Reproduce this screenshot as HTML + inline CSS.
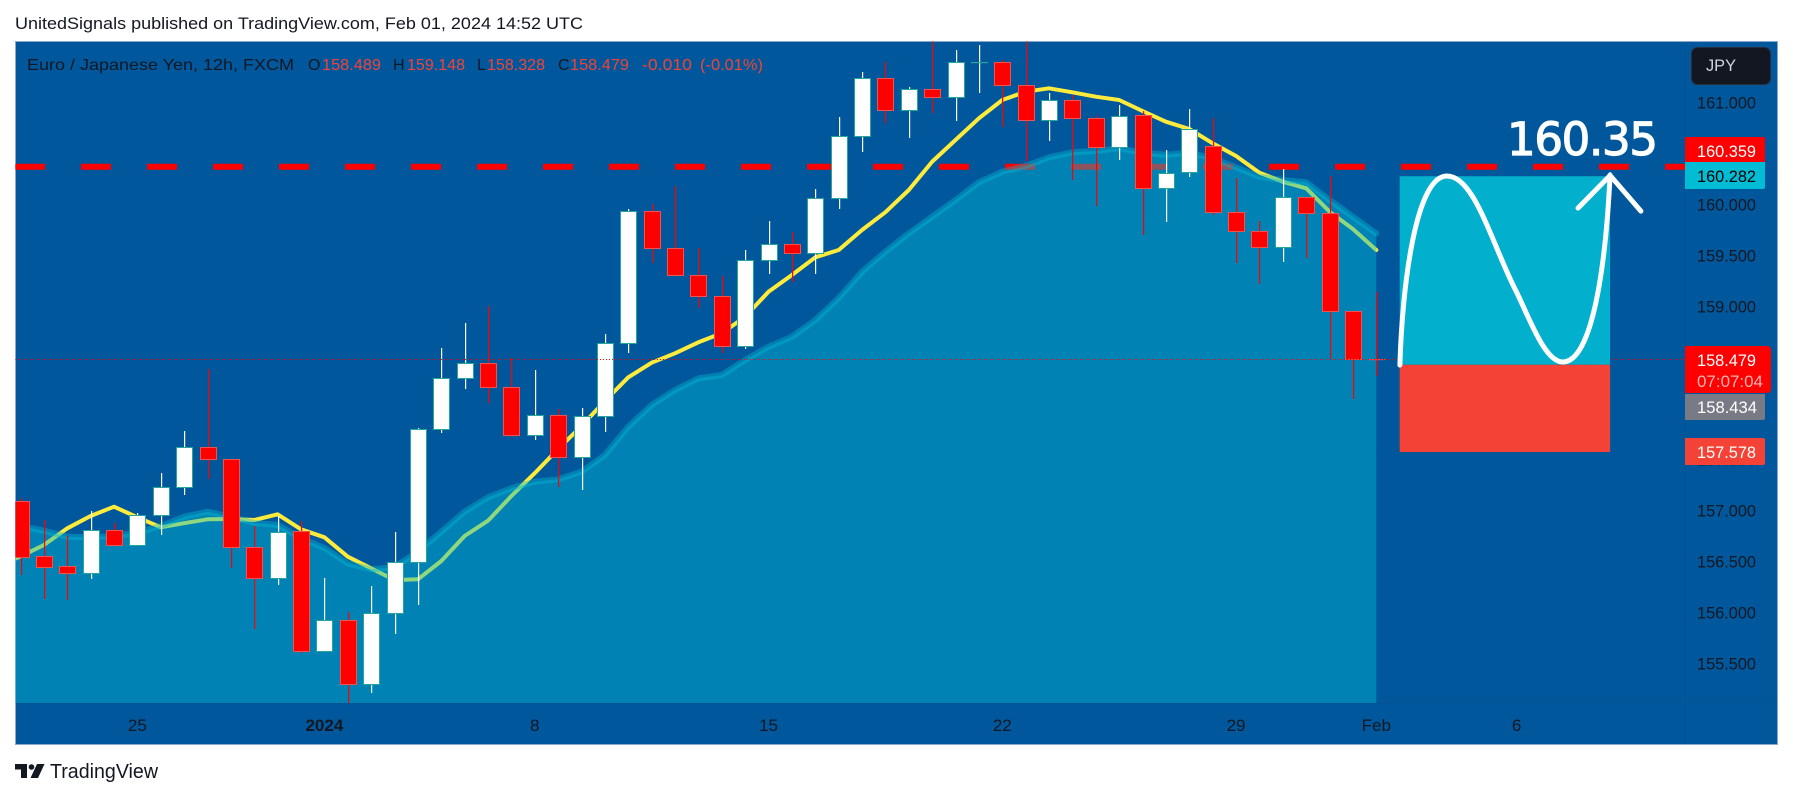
<!DOCTYPE html>
<html lang="en">
<head>
<meta charset="utf-8">
<title>EUR/JPY 12h chart</title>
<style>
html,body{margin:0;padding:0;background:#fff;width:1793px;height:798px;overflow:hidden}
svg{display:block;position:absolute;left:0;top:0}
text{font-family:"Liberation Sans",sans-serif}
</style>
</head>
<body>
<svg id="chart" xmlns="http://www.w3.org/2000/svg" width="1793" height="798" viewBox="0 0 1793 798">
  <defs>
    <clipPath id="pane-clip"><rect x="15.5" y="41.5" width="1669.5" height="661.5"/></clipPath>
  </defs>
  <text x="15" y="29" font-size="17" fill="#131722" textLength="568" lengthAdjust="spacingAndGlyphs">UnitedSignals published on TradingView.com, Feb 01, 2024 14:52 UTC</text>
  <rect x="15.5" y="41.5" width="1762" height="703" fill="#01579b" stroke="#8aa9cc" stroke-width="1"/>
  <g id="pane" clip-path="url(#pane-clip)"></g>
  <line x1="1685.5" y1="42" x2="1685.5" y2="744" stroke="#025393" stroke-width="1"/>
  <line x1="16" y1="703.5" x2="1777" y2="703.5" stroke="#025393" stroke-width="1"/>
  <g id="price-axis"></g>
  <g id="time-axis"></g>

  <g font-size="16">
    <text x="27" y="70" fill="#131722" textLength="267" lengthAdjust="spacingAndGlyphs">Euro / Japanese Yen, 12h, FXCM</text>
    <text x="308" y="70" fill="#131722">O</text>
    <text x="322" y="70" fill="#f44336" textLength="59" lengthAdjust="spacingAndGlyphs">158.489</text>
    <text x="393" y="70" fill="#131722">H</text>
    <text x="407" y="70" fill="#f44336" textLength="58" lengthAdjust="spacingAndGlyphs">159.148</text>
    <text x="477" y="70" fill="#131722">L</text>
    <text x="487" y="70" fill="#f44336" textLength="58" lengthAdjust="spacingAndGlyphs">158.328</text>
    <text x="558" y="70" fill="#131722">C</text>
    <text x="570" y="70" fill="#f44336" textLength="59" lengthAdjust="spacingAndGlyphs">158.479</text>
    <text x="642" y="70" fill="#f44336" textLength="50" lengthAdjust="spacingAndGlyphs">-0.010</text>
    <text x="700" y="70" fill="#f44336" textLength="63" lengthAdjust="spacingAndGlyphs">(-0.01%)</text>
  </g>

  <g>
    <rect x="1691.5" y="47.5" width="79" height="37" rx="6" fill="#131722" stroke="#2a2e39"/>
    <text x="1706" y="71" font-size="17" fill="#d1d4dc" textLength="30" lengthAdjust="spacingAndGlyphs">JPY</text>
  </g>

  <g font-size="17">
    <path d="M1685 137H1763a2 2 0 0 1 2 2V162H1685Z" fill="#ff0000"/>
    <text x="1697" y="157" fill="#ffffff" textLength="59" lengthAdjust="spacingAndGlyphs">160.359</text>
    <path d="M1685 162H1765V187a2 2 0 0 1 -2 2H1685Z" fill="#00bcd4"/>
    <text x="1697" y="182" fill="#000000" textLength="59" lengthAdjust="spacingAndGlyphs">160.282</text>
    <path d="M1685 346H1767a4 4 0 0 1 4 4V389a4 4 0 0 1 -4 4H1685Z" fill="#ff0000"/>
    <text x="1697" y="366" fill="#ffffff" textLength="59" lengthAdjust="spacingAndGlyphs">158.479</text>
    <text x="1697" y="387" fill="#ffb3b3" textLength="66" lengthAdjust="spacingAndGlyphs">07:07:04</text>
    <path d="M1685 394H1765V418a2 2 0 0 1 -2 2H1685Z" fill="#787b86"/>
    <text x="1697" y="413" fill="#ffffff" textLength="60" lengthAdjust="spacingAndGlyphs">158.434</text>
    <path d="M1685 438H1763a2 2 0 0 1 2 2V463a2 2 0 0 1 -2 2H1685Z" fill="#f44336"/>
    <text x="1697" y="458" fill="#ffffff" textLength="59" lengthAdjust="spacingAndGlyphs">157.578</text>
  </g>

  <g>
    <path d="M15 764H27V778H21V769.500H15Z" fill="#131722"/>
    <circle cx="31.500" cy="767" r="2.800" fill="#131722"/>
    <path d="M37 764H44.500L38 778H30.500Z" fill="#131722"/>
    <text x="50" y="778" font-size="20" fill="#131722" textLength="108" lengthAdjust="spacingAndGlyphs">TradingView</text>
  </g>
</svg>

<script>
/* ---------- candle data (EUR/JPY, 12h) ---------- */
const opens = [157.098,156.556,156.458,156.389,156.811,156.664,156.958,157.232,157.624,157.507,156.644,156.340,156.801,155.625,155.928,155.301,155.997,156.497,157.801,158.301,158.448,158.213,157.748,157.938,157.532,157.928,158.644,159.938,159.576,159.317,159.111,158.615,159.458,159.615,159.527,160.066,160.674,161.242,160.928,161.140,161.056,161.399,161.399,161.174,160.830,161.026,160.856,160.566,160.879,160.164,160.320,160.575,159.934,159.748,159.585,160.081,159.924,158.964,158.489];
const highs = [157.130,156.912,156.755,157.000,156.879,156.980,157.372,157.784,158.389,157.507,156.853,156.951,156.902,156.343,156.010,156.265,156.794,157.814,158.598,158.843,159.010,158.500,158.382,158.000,158.010,158.735,159.961,160.010,160.186,159.578,159.304,159.559,159.843,159.738,160.157,160.863,161.304,161.402,161.157,161.667,161.520,161.569,161.422,161.716,161.095,161.078,160.875,160.980,160.922,160.539,160.941,160.850,160.262,159.843,160.350,160.081,160.284,158.964,159.148];
const lows = [156.372,156.137,156.128,156.333,156.664,156.664,156.765,157.157,157.311,156.441,155.843,156.275,155.608,155.625,155.115,155.219,155.797,156.078,157.768,158.196,158.062,157.728,157.696,157.235,157.206,157.774,158.549,159.428,159.317,158.993,158.549,158.591,159.324,159.248,159.324,159.961,160.520,160.804,160.657,160.899,160.826,161.101,160.765,160.431,160.630,160.248,159.993,160.444,159.709,159.833,160.277,159.902,159.434,159.225,159.444,159.483,158.490,158.095,158.328];
const closes = [156.552,156.454,156.389,156.811,156.664,156.958,157.232,157.624,157.507,156.644,156.340,156.797,155.625,155.928,155.301,155.997,156.497,157.801,158.301,158.448,158.213,157.748,157.938,157.532,157.928,158.644,159.938,159.576,159.317,159.111,158.615,159.458,159.615,159.527,160.066,160.674,161.242,160.928,161.140,161.056,161.399,161.399,161.174,160.830,161.026,160.856,160.566,160.875,160.164,160.317,160.742,159.934,159.748,159.585,160.081,159.924,158.964,158.493,158.479];

/* ---------- moving averages (first value belongs to the bar left of the pane) ---------- */
const fastMA = [156.461,156.554,156.667,156.830,156.951,157.042,156.938,156.840,156.880,156.919,156.922,156.912,156.968,156.821,156.742,156.552,156.438,156.323,156.330,156.510,156.755,156.905,157.147,157.372,157.608,157.833,158.078,158.311,158.454,158.546,158.654,158.742,158.905,159.150,159.314,159.487,159.559,159.755,159.929,160.147,160.425,160.637,160.850,161.029,161.111,161.144,161.105,161.062,161.029,160.922,160.817,160.745,160.605,160.480,160.317,160.228,160.164,159.934,159.765,159.559];
const slowMA = [156.882,156.853,156.807,156.748,156.742,156.755,156.787,156.853,156.944,156.993,156.944,156.882,156.863,156.735,156.637,156.487,156.428,156.451,156.601,156.797,156.993,157.134,157.223,157.287,157.311,157.385,157.549,157.826,158.039,158.186,158.301,158.333,158.480,158.611,158.709,158.872,159.088,159.346,159.542,159.722,159.885,160.049,160.223,160.326,160.382,160.468,160.517,160.529,160.556,160.513,160.493,160.513,160.458,160.370,160.277,160.245,160.223,160.049,159.885,159.722];

/* ---------- axis labels ---------- */
const priceTicks = [161,160.5,160,159.5,159,158.5,158,157.5,157,156.5,156,155.5];
const timeLabels = ["25","2024","8","15","22","29","Feb","6"];
const timeLabelBars = [5,13,22,32,42,52,58,64];
const timeLabelBold = ["2024"];

/* ---------- drawing levels ---------- */
const targetLine = 160.375;
const lastPrice = 158.479;
const positionLevels = [160.282,158.434,157.578];
const positionBars = [59,68];
const targetText = ["160.35"];
/* forecast drawing: anchor, then control, control, anchor ... */
const pathBars = [59.01,59.10,59.66,61.02,62.22,62.95,64.02,64.58,65.22,65.98,67.14,67.78,68.0];
const pathPrices = [158.431,159.167,160.284,160.284,160.284,159.608,159.137,158.873,158.461,158.461,158.461,159.265,160.294];
const arrowBars = [66.63,68.0,69.32];
const arrowPrices = [159.97,160.29,159.94];

/* ---------- scales ---------- */
const BAR0 = 20.5, BAR_STEP = 23.376;
const MA_FIRST_BAR = -1;
function xScale(i){ return BAR0 + i * BAR_STEP; }
function yScale(p){ return 103 + (161 - p) * 102; }

const NS = 'http://www.w3.org/2000/svg';
const pane = document.getElementById('pane');
const priceAxis = document.getElementById('price-axis');
const timeAxis = document.getElementById('time-axis');

function make(tag, parent, attrs){
  const el = document.createElementNS(NS, tag);
  for (const k in attrs) el.setAttribute(k, attrs[k]);
  parent.appendChild(el);
  return el;
}

function linePath(values){
  return values.map(function(v, i){
    return (i ? 'L' : 'M') + xScale(i + MA_FIRST_BAR).toFixed(1) + ' ' + yScale(v).toFixed(1);
  }).join(' ');
}

function bezierPath(bars, prices){
  let d = 'M' + xScale(bars[0]).toFixed(1) + ' ' + yScale(prices[0]).toFixed(1);
  for (let i = 1; i < bars.length; i++){
    d += (i % 3 === 1 ? ' C' : ' ') + xScale(bars[i]).toFixed(1) + ' ' + yScale(prices[i]).toFixed(1);
  }
  return d;
}

/* target dashed line */
const dash = make('line', pane, {x1:15, x2:1685, y1:yScale(targetLine), y2:yScale(targetLine), stroke:'#ff0000', 'stroke-width':6, 'stroke-dasharray':'30 36'});



/* fast MA line (sits under the translucent area) */
const fast = make('path', pane, {d:linePath(fastMA), fill:'none', stroke:'#ffeb3b', 'stroke-width':4, 'stroke-linejoin':'round', 'stroke-linecap':'round'});



/* slow MA area */
const baseY = 703;
const lastMA = slowMA.length - 1 + MA_FIRST_BAR;
const area = make('path', pane, {d:linePath(slowMA) + ' L' + xScale(lastMA).toFixed(1) + ' ' + baseY + ' L' + xScale(MA_FIRST_BAR).toFixed(1) + ' ' + baseY + ' Z', fill:'#00bcd4', 'fill-opacity':0.44, stroke:'none'});



const slowLine = make('path', pane, {d:linePath(slowMA), fill:'none', stroke:'#00bcd4', 'stroke-opacity':0.4, 'stroke-width':6, 'stroke-linejoin':'round', 'stroke-linecap':'round'});



/* candles */
opens.forEach(function(open, i){
  const close = closes[i];
  const up = close >= open;
  const cx = Math.round(xScale(i));
  const group = make('g', pane, {});
  
  

  const wickY = Math.round(yScale(highs[i]));
  const wickEnd = Math.round(yScale(lows[i]));
  const wick = make('rect', group, {x:cx, y:wickY, width:1.2, height:Math.max(wickEnd - wickY, 1), fill:up ? '#ffffff' : '#ff0000'});
  
  

  const topY = Math.round(yScale(Math.max(open, close)));
  const botY = Math.round(yScale(Math.min(open, close)));
  if (botY - topY < 2){
    const doji = make('rect', group, {x:cx - 8, y:topY, width:17, height:1.2, fill:up ? '#26a69a' : '#ef5350'});
    
    
  } else {
    const body = make('rect', group, {x:cx - 7.5, y:topY + 0.5, width:16, height:botY - topY, fill:up ? '#ffffff' : '#ff0000', stroke:up ? '#26a69a' : '#ef5350', 'stroke-width':1});
    
    
  }
});

/* last price dotted line */
const last = make('line', pane, {x1:15, x2:1685, y1:Math.round(yScale(lastPrice)) - 0.5, y2:Math.round(yScale(lastPrice)) - 0.5, stroke:'#ff0000', 'stroke-width':1, 'stroke-dasharray':'1 2'});



/* long position box */
const boxX = xScale(positionBars[0]);
const boxW = xScale(positionBars[1]) - boxX;
const profit = make('rect', pane, {x:boxX, y:yScale(positionLevels[0]), width:boxW, height:yScale(positionLevels[1]) - yScale(positionLevels[0]), fill:'#02afcd'});


const risk = make('rect', pane, {x:boxX, y:yScale(positionLevels[1]), width:boxW, height:yScale(positionLevels[2]) - yScale(positionLevels[1]), fill:'#f44336'});



/* hand-drawn forecast curve and arrow */
const curve = make('path', pane, {d:bezierPath(pathBars, pathPrices), fill:'none', stroke:'#ffffff', 'stroke-width':5, 'stroke-linecap':'round', 'stroke-linejoin':'round'});


const arrowD = arrowBars.map(function(b, i){ return (i ? 'L' : 'M') + xScale(b).toFixed(1) + ' ' + yScale(arrowPrices[i]).toFixed(1); }).join(' ');
const arrow = make('path', pane, {d:arrowD, fill:'none', stroke:'#ffffff', 'stroke-width':5, 'stroke-linecap':'round', 'stroke-linejoin':'miter'});



const target = make('text', pane, {x:1507, y:155, 'font-size':45, fill:'#ffffff', stroke:'#ffffff', 'stroke-width':1.2, textLength:151, lengthAdjust:'spacing', style:'font-family:"DejaVu Sans",sans-serif'});
target.textContent = targetText[0];



/* price axis */
priceTicks.forEach(function(p){
  const t = make('text', priceAxis, {x:1697, y:yScale(p) + 5.5, 'font-size':17, fill:'#131722', textLength:59, lengthAdjust:'spacingAndGlyphs'});
  t.textContent = p.toFixed(3);
  
  
});

/* time axis */
timeLabels.forEach(function(label, i){
  const t = make('text', timeAxis, {x:xScale(timeLabelBars[i]), y:731, 'font-size':17, fill:'#131722', 'text-anchor':'middle', 'font-weight':timeLabelBold.indexOf(label) >= 0 ? 700 : 400});
  t.textContent = label;
  
  
});
</script>
</body>
</html>
